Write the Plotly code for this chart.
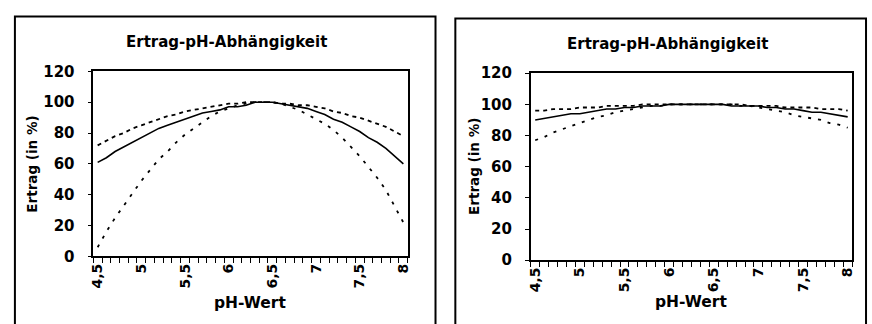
import plotly.graph_objects as go

ph = [round(4.5 + 0.1 * i, 1) for i in range(36)]

left_mid = [61, 64, 68, 71, 74, 77, 80, 83, 85, 87, 89, 91, 93, 94, 95, 97, 97, 98,
            100, 100, 100, 99, 98, 97, 96, 94, 92, 89, 87, 84, 81, 77, 74, 70, 65, 60]
left_high = [72, 75, 78, 80, 83, 85, 87, 89, 91, 92, 94, 95, 96, 97, 98, 99, 99, 100,
             100, 100, 100, 99, 99, 98, 98, 97, 96, 94, 93, 91, 90, 88, 86, 84, 81, 78]
left_low = [6, 16, 25, 33, 41, 49, 56, 63, 68, 74, 79, 83, 87, 91, 94, 96, 98, 99,
            100, 100, 100, 99, 97, 95, 92, 89, 86, 82, 77, 71, 65, 58, 51, 43, 33, 22]

right_mid = [90, 91, 92, 93, 94, 94, 95, 96, 97, 97, 98, 98, 99, 99, 99, 100, 100, 100,
             100, 100, 100, 100, 99, 99, 99, 99, 98, 98, 97, 97, 96, 95, 95, 94, 93, 92]
right_high = [96, 96, 97, 97, 97, 98, 98, 98, 99, 99, 99, 99, 100, 100, 100, 100, 100, 100,
              100, 100, 100, 100, 100, 100, 99, 99, 99, 99, 98, 98, 98, 98, 97, 97, 97, 96]
right_low = [77, 79, 82, 84, 86, 88, 90, 92, 93, 95, 96, 97, 98, 99, 99, 100, 100, 100,
             100, 100, 100, 100, 100, 99, 99, 98, 97, 96, 95, 93, 92, 91, 90, 88, 87, 85]

tick_vals = [4.5, 5, 5.5, 6, 6.5, 7, 7.5, 8]
tick_text = ["4,5", "5", "5,5", "6", "6,5", "7", "7,5", "8"]

title_text = "Ertrag-pH-Abhängigkeit"
x_title = "pH-Wert"
y_title = "Ertrag (in %)"

W, H = 872, 324
FONT = "DejaVu Sans"

fig = go.Figure()

def add_series(xa, ya, mid, high, low):
    fig.add_trace(go.Scatter(x=ph, y=high, mode="lines", xaxis=xa, yaxis=ya,
                             line=dict(color="black", width=1.8, dash="4px,4px"), showlegend=False))
    fig.add_trace(go.Scatter(x=ph, y=low, mode="lines", xaxis=xa, yaxis=ya,
                             line=dict(color="black", width=1.8, dash="3px,7px"), showlegend=False))
    fig.add_trace(go.Scatter(x=ph, y=mid, mode="lines", xaxis=xa, yaxis=ya,
                             line=dict(color="black", width=1.6), showlegend=False))

add_series("x", "y", left_mid, left_high, left_low)
add_series("x2", "y2", right_mid, right_high, right_low)

def px_x(a, b):
    return [a / W, b / W]

def px_y(top, bottom):
    return [1 - bottom / H, 1 - top / H]

xaxis_common = dict(
    range=[4.45, 8.05], tickmode="array", tickvals=tick_vals, ticktext=tick_text,
    ticks="", tickangle=-90, showline=True, linecolor="black", linewidth=1.5, mirror=True,
    showgrid=False, zeroline=False,
    tickfont=dict(family=FONT, size=14, color="black", weight="bold"),
    minor=dict(tickmode="linear", tick0=4.45, dtick=0.1, ticks="outside", ticklen=5,
               tickcolor="black", tickwidth=1, showgrid=False),
)
yaxis_common = dict(
    range=[0, 120], tickmode="linear", tick0=0, dtick=20, ticks="outside", ticklen=4,
    tickcolor="black", showline=True, linecolor="black", linewidth=1.5, mirror=True,
    showgrid=False, zeroline=False, ticklabelstandoff=10,
    tickfont=dict(family=FONT, size=15, color="black", weight="bold"),
)

fig.update_layout(
    width=W, height=H, margin=dict(l=0, r=0, t=0, b=0),
    paper_bgcolor="white", plot_bgcolor="white",
    xaxis=dict(domain=px_x(90, 407), anchor="y", **xaxis_common),
    yaxis=dict(domain=px_y(66, 262), anchor="x", **yaxis_common),
    xaxis2=dict(domain=px_x(531, 855), anchor="y2", **xaxis_common),
    yaxis2=dict(domain=px_y(68, 266), anchor="x2", **yaxis_common),
)

# panel borders
fig.add_shape(type="path", xref="paper", yref="paper",
              path=f"M {11/W},{-0.1} L {11/W},{1-8/H} L {435/W},{1-8/H} L {435/W},{-0.1}",
              line=dict(color="black", width=2))
fig.add_shape(type="path", xref="paper", yref="paper",
              path=f"M {455/W},{-0.1} L {455/W},{1-10/H} L {869/W},{1-10/H} L {869/W},{-0.1}",
              line=dict(color="black", width=2))

def ann(x, y, text, size, angle=0):
    fig.add_annotation(x=x / W, y=1 - y / H, xref="paper", yref="paper", text=text,
                       showarrow=False, textangle=angle, xanchor="center", yanchor="middle",
                       font=dict(family=FONT, size=size, color="black", weight="bold"))

ann(224, 35, title_text, 15)
ann(669, 37, title_text, 15)
ann(248, 311, x_title, 15.5)
ann(693, 310, x_title, 15.5)
ann(28, 164, y_title, 13.5, -90)
ann(474, 167, y_title, 13.5, -90)

fig.write_html("out.html", config={"responsive": False, "displayModeBar": False},
               post_script="document.body.style.margin='0';document.body.style.overflow='hidden';")
